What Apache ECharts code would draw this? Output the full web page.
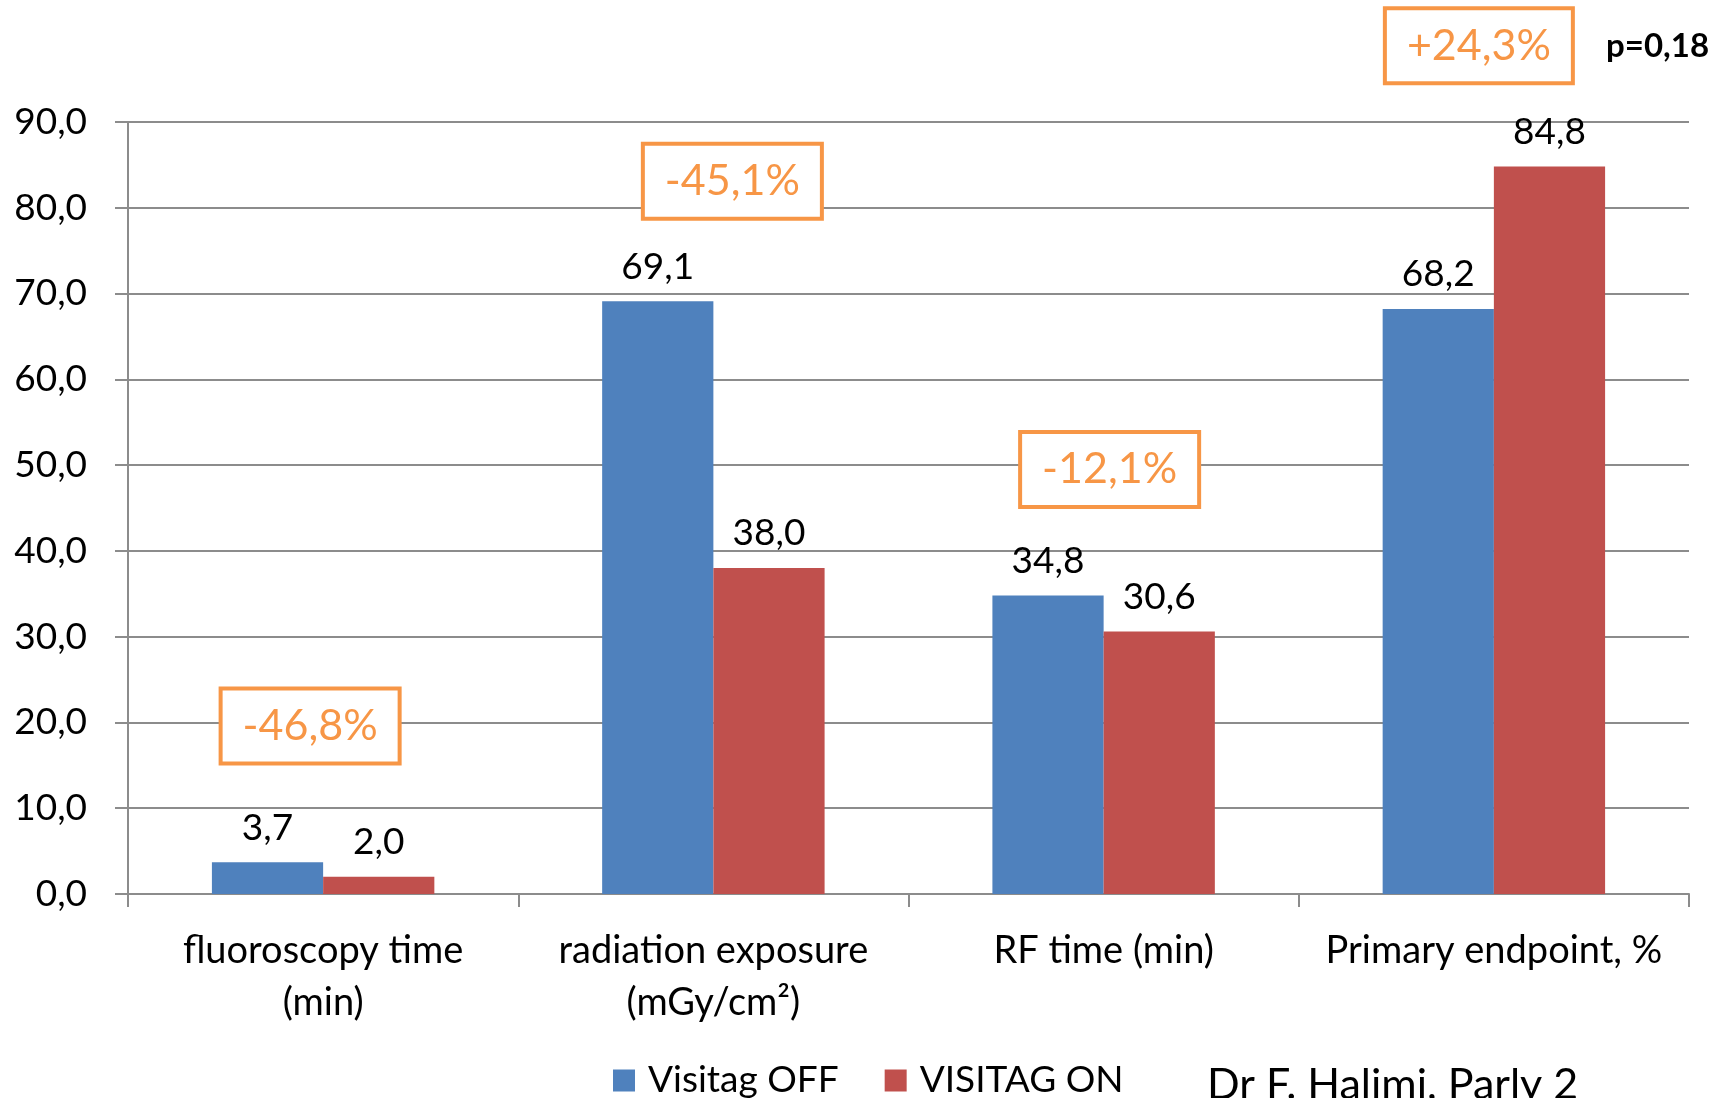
<!DOCTYPE html>
<html>
<head>
<meta charset="utf-8">
<script src="https://cdn.jsdelivr.net/npm/echarts@6/dist/echarts.min.js"></script>
<style>
html,body{margin:0;padding:0;background:#fff;}
#c{width:1731px;height:1098px;}
</style>
</head>
<body>
<div id="c"></div>
<script>
const categories = ['fluoroscopy time\n(min)', 'radiation exposure\n(mGy/cm²)', 'RF time (min)', 'Primary endpoint, %'];
const seriesNames = ['Visitag OFF', 'VISITAG ON'];
const visitagOff = [3.7, 69.1, 34.8, 68.2];
const visitagOn = [2.0, 38.0, 30.6, 84.8];
const annoText = ['-46,8%', '-45,1%', '-12,1%', '+24,3%'];
const annoLevel = [19.6, 83.1, 49.5, 98.9];
const pValueText = 'p=0,18';
const creditText = 'Dr F. Halimi, Parly 2';

const FONT = 'Lato, "Open Sans", sans-serif';
const fmt = v => (typeof v === 'number' ? v : v.value).toFixed(1).replace('.', ',');
const annoDx = [-13, 19, 6, -15];

const chart = echarts.init(document.getElementById('c'), null, {renderer: 'canvas'});
chart.setOption({
  animation: false,
  backgroundColor: '#fff',
  textStyle: {fontFamily: FONT},
  grid: {left: 128, right: 42, top: 122, bottom: 204, containLabel: false},
  legend: {
    data: seriesNames,
    left: 608, top: 1057,
    itemWidth: 22, itemHeight: 22, itemGap: 46,
    icon: 'rect',
    textStyle: {fontFamily: FONT, fontSize: 37, color: '#000', padding: [0, 0, 0, 8]}
  },
  xAxis: {
    type: 'category',
    data: categories,
    axisLine: {lineStyle: {color: '#8c8c8c', width: 2}},
    axisTick: {show: true, length: 13, lineStyle: {color: '#8c8c8c', width: 2}},
    axisLabel: {fontFamily: FONT, fontSize: 38, color: '#000', lineHeight: 52, margin: 31, interval: 0}
  },
  yAxis: {
    type: 'value', min: 0, max: 90, interval: 10,
    axisLine: {show: true, lineStyle: {color: '#8c8c8c', width: 2}},
    axisTick: {show: true, length: 13, lineStyle: {color: '#8c8c8c', width: 2}},
    splitLine: {lineStyle: {color: '#8c8c8c', width: 2}},
    axisLabel: {fontFamily: FONT, fontSize: 37, color: '#000', margin: 41, formatter: v => fmt(v)}
  },
  series: [
    {
      name: seriesNames[0], type: 'bar', data: visitagOff,
      barGap: '0%', barCategoryGap: '43%',
      itemStyle: {color: '#4F81BD'},
      label: {show: true, position: 'top', distance: 16, fontFamily: FONT, fontSize: 37, color: '#000', formatter: p => fmt(p.value)}
    },
    {
      name: seriesNames[1], type: 'bar', data: visitagOn,
      barGap: '0%', barCategoryGap: '43%',
      itemStyle: {color: '#C0504D'},
      label: {show: true, position: 'top', distance: 16, fontFamily: FONT, fontSize: 37, color: '#000', formatter: p => fmt(p.value)}
    },
    {
      name: 'annotations', type: 'scatter', clip: false, silent: true,
      symbolSize: 0,
      itemStyle: {opacity: 1},
      data: annoLevel.map((v, i) => ({
        value: [i, v],
        label: {offset: [annoDx[i], 0], formatter: annoText[i]}
      })),
      label: {
        show: true, position: 'inside',
        fontFamily: FONT, fontSize: 43, color: '#F79646',
        borderColor: '#F79646', borderWidth: 4,
        backgroundColor: '#fff', opacity: 1,
        padding: [14, 20, 14, 20]
      }
    }
  ],
  graphic: [
    {type: 'text', left: 1606, top: 30, style: {text: pValueText, font: 'bold 33px ' + FONT, fill: '#000'}},
    {type: 'text', left: 1207, top: 1064, style: {text: creditText, font: '43px ' + FONT, fill: '#000'}}
  ]
});
</script>
</body>
</html>
